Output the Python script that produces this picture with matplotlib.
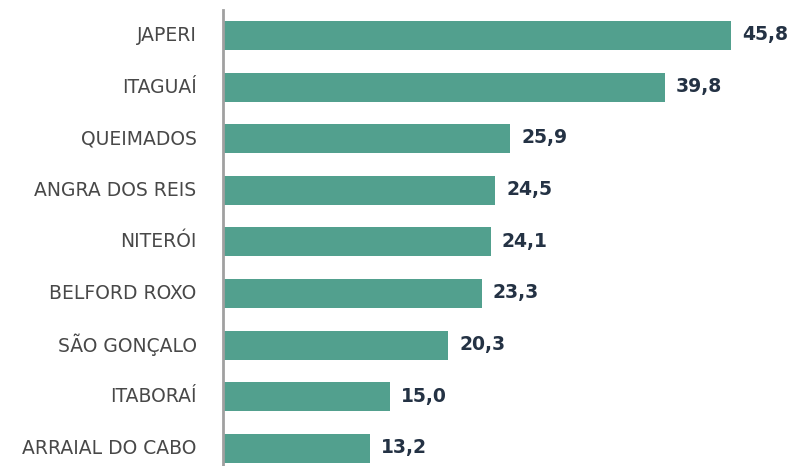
import matplotlib
matplotlib.use("Agg")
import matplotlib.pyplot as plt
from matplotlib.transforms import ScaledTranslation

categories = ["JAPERI", "ITAGUAÍ", "QUEIMADOS", "ANGRA DOS REIS", "NITERÓI",
              "BELFORD ROXO", "SÃO GONÇALO", "ITABORAÍ", "ARRAIAL DO CABO"]
values = [45.8, 39.8, 25.9, 24.5, 24.1, 23.3, 20.3, 15.0, 13.2]
value_labels = ["45,8", "39,8", "25,9", "24,5", "24,1", "23,3", "20,3", "15,0", "13,2"]

fig = plt.figure(figsize=(7.93, 4.66), dpi=100)
ax = fig.add_axes([223/793, 0, 1 - 223/793, 1 - 10/466])

ypos = list(range(len(categories)))
ax.barh(ypos, values, height=0.56, color="#52A08E", zorder=2)
ax.set_ylim(8.343, -0.494)
ax.set_xlim(0, 570/11.1)

for y, v, lab in zip(ypos, values, value_labels):
    ax.annotate(lab, (v, y), xytext=(8, 0.5), textcoords="offset points",
                ha="left", va="center", fontsize=13.5, fontweight="bold",
                color="#243244", family="DejaVu Sans")

ax.set_yticks(ypos)
ax.set_yticklabels(categories, fontsize=13.5, color="#484848", family="DejaVu Sans")
ax.tick_params(axis="y", length=0, pad=19)
shift = ScaledTranslation(0, 1.5/72, fig.dpi_scale_trans)
for t in ax.get_yticklabels():
    t.set_transform(t.get_transform() + shift)
ax.set_xticks([])
for s in ["top", "right", "bottom"]:
    ax.spines[s].set_visible(False)
ax.spines["left"].set_color("#A0A0A0")
ax.spines["left"].set_linewidth(2)
ax.spines["left"].set_zorder(3)

fig.savefig("out.png", dpi=100)
